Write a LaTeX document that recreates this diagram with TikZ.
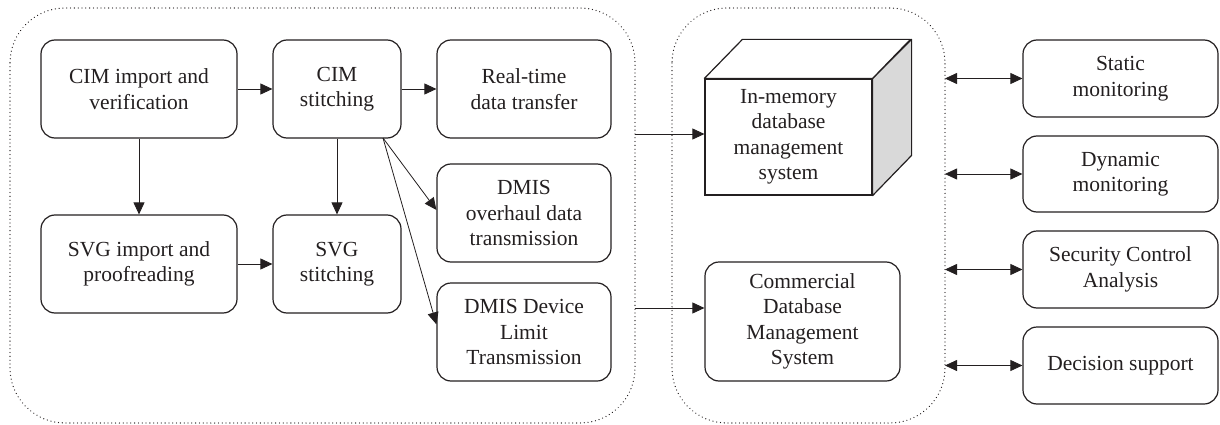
\documentclass[tikz,border=0pt]{standalone}
\usepackage{fontspec}
\setmainfont{Liberation Serif}
\usetikzlibrary{arrows.meta}
\definecolor{ink}{HTML}{231F20}
\begin{document}
\begin{tikzpicture}[x=1pt,y=-1pt,
  box/.style={draw=ink,line width=1.2pt,rounded corners=14pt,inner sep=0pt,align=center,text=ink,font=\fontsize{21.5}{25.5}\selectfont},
  flatbox/.style={draw=ink,line width=1.2pt,inner sep=0pt,align=center,text=ink,font=\fontsize{21.5}{25.5}\selectfont},
  arr/.style={draw=ink,line width=0.8pt,-{Triangle[length=12pt,width=11pt]}},
  darr/.style={draw=ink,line width=0.8pt,{Triangle[length=12pt,width=11pt]}-{Triangle[length=12pt,width=11pt]}},
  container/.style={draw=ink,line width=1.3pt,dash pattern=on 0.01pt off 3.8pt,line cap=round,rounded corners=55pt}]
\useasboundingbox (0,0) rectangle (1220,425);
% containers
\draw[container] (10,8) rectangle (635,423);
\draw[container] (672,8) rectangle (945,423);
% left group
\node[box,minimum width=196pt,minimum height=98pt] (cimimp) at (139,89) {CIM import and\\verification};
\node[box,minimum width=128pt,minimum height=98pt] (cimst) at (337,89) {CIM\\stitching};
\node[box,minimum width=196pt,minimum height=98pt] (svgimp) at (139,264) {SVG import and\\proofreading};
\node[box,minimum width=128pt,minimum height=98pt] (svgst) at (337,264) {SVG\\stitching};
\node[box,minimum width=174pt,minimum height=98pt] (rt) at (524,89) {Real-time\\data transfer};
\node[box,minimum width=174pt,minimum height=98pt] (dmiso) at (524,213) {DMIS\\overhaul data\\transmission};
\node[box,minimum width=174pt,minimum height=98pt] (dmisd) at (524,332) {DMIS Device\\Limit\\Transmission};
% cube
\node[flatbox,minimum width=167pt,minimum height=116pt] (cube) at (788.5,137) {In-memory\\database\\management\\system};
\draw[ink,line width=1.2pt,fill=gray!30,line join=round] (cube.north east) -- ++(39,-39) -- ++(0,116) -- (cube.south east) -- cycle;
\draw[ink,line width=1.2pt,fill=white,line join=round] (cube.north west) -- ++(38,-39) -- ++(168,0) -- (cube.north east) -- cycle;
\node[box,minimum width=195pt,minimum height=119pt] (comm) at (802.5,321.5) {Commercial\\Database\\Management\\System};
% right group
\node[box,minimum width=195pt,minimum height=77pt] (static) at (1120.5,78.5) {Static\\monitoring};
\node[box,minimum width=195pt,minimum height=76pt] (dyn) at (1120.5,174) {Dynamic\\monitoring};
\node[box,minimum width=195pt,minimum height=77pt] (sec) at (1120.5,269.5) {Security Control\\Analysis};
\node[box,minimum width=195pt,minimum height=77pt] (dec) at (1120.5,365.5) {Decision support};
% connectors
\draw[arr] (cimimp.east) -- (cimst.west);
\draw[arr] (cimimp.south) -- (svgimp.north);
\draw[arr] (cimst.south) -- (svgst.north);
\draw[arr] (svgimp.east) -- (svgst.west);
\draw[arr] (cimst.east) -- (rt.west);
\coordinate (fork) at (383,138);
\draw[arr] (fork) -- (dmiso.178);
\draw[arr] (fork) -- (dmisd.175);
\coordinate (lc1) at (635,134);
\coordinate (lc2) at (635,308);
\draw[arr] (lc1) -- (lc1 -| cube.west);
\draw[arr] (lc2) -- (lc2 -| comm.west);
\coordinate (rcx) at (945,0);
\draw[darr] (rcx |- static.west) -- (static.west);
\draw[darr] (rcx |- dyn.west) -- (dyn.west);
\draw[darr] (rcx |- sec.west) -- (sec.west);
\draw[darr] (rcx |- dec.west) -- (dec.west);
\end{tikzpicture}
\end{document}
